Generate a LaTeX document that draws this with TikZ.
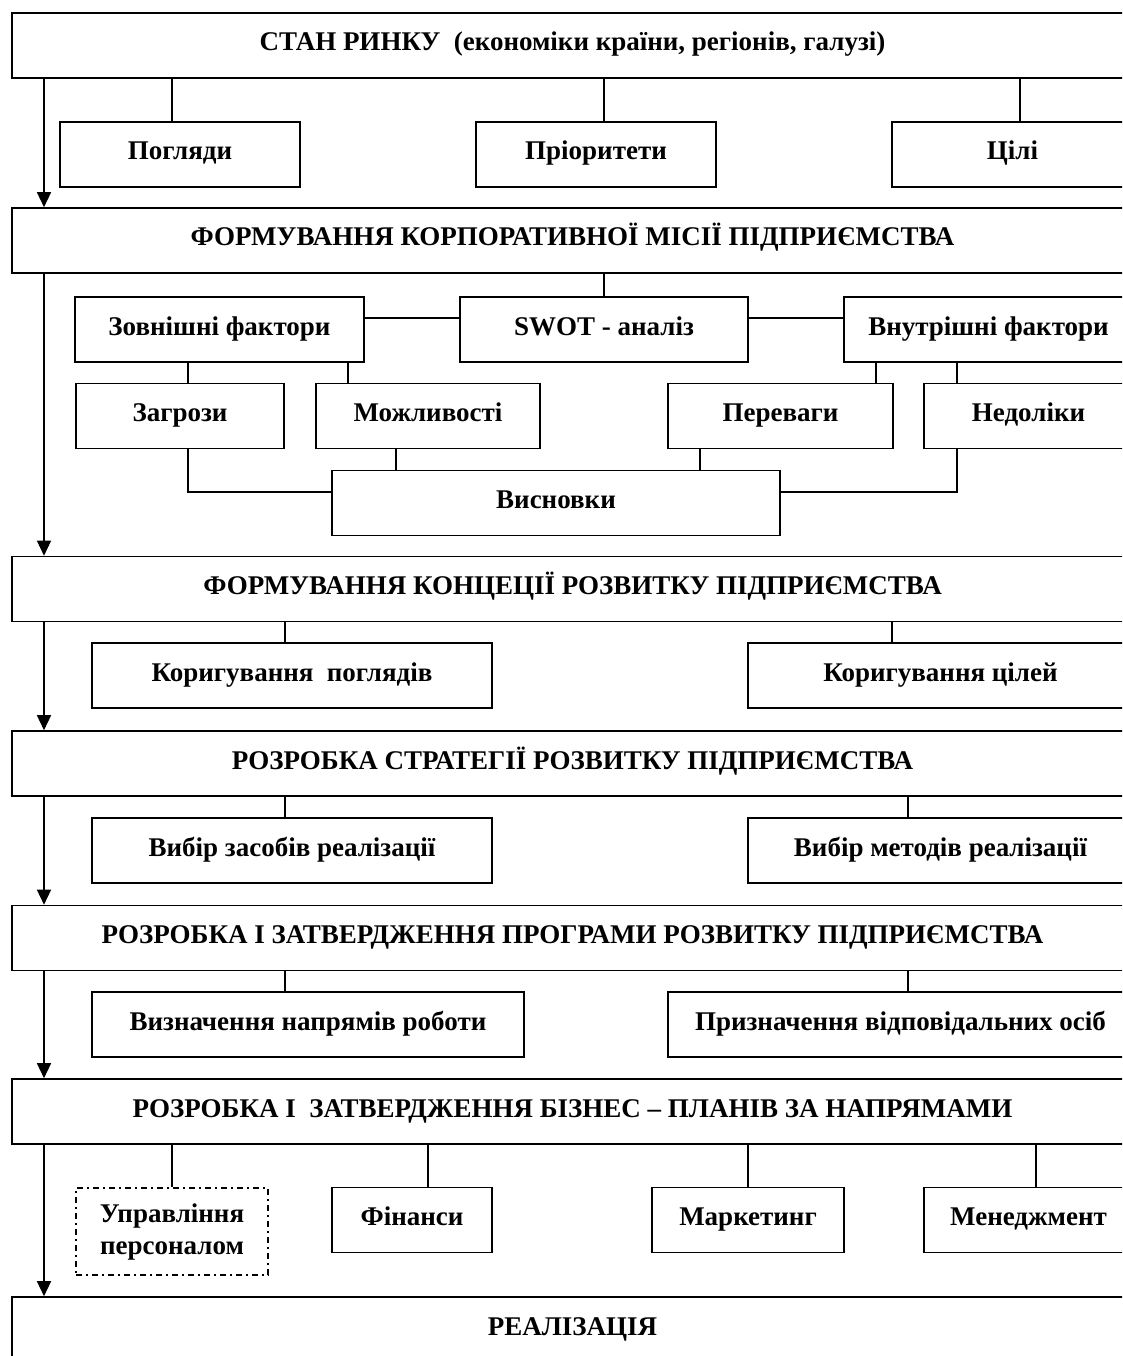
\documentclass[tikz,border=0pt]{standalone}
\usepackage{fontspec}
\setmainfont{Liberation Serif}
\usetikzlibrary{arrows.meta}

\begin{document}
\begin{tikzpicture}[x=1pt, y=-1pt,
    every node/.style={font=\fontsize{27}{32}\selectfont\bfseries, inner sep=0pt,
      text height=19pt, text depth=8pt},
    stage/.style={draw, line width=1.6pt, minimum width=1121pt, minimum height=65pt},
    item/.style={draw, line width=1.6pt, minimum height=65pt},
    dashitem/.style={draw, line width=1.4pt, minimum height=87pt, align=center,
      text height=, text depth=, dash pattern=on 6pt off 4pt on 2pt off 4pt},
    flow/.style={line width=1.4pt, -{Triangle[length=15pt, width=14pt]}},
    link/.style={line width=1.4pt}]
    \clip (0,0) rectangle (1122,1356);

    % main stages
    \foreach \n/\y/\t in {m1/45.5/{СТАН РИНКУ\ \ (економіки країни, регіонів, галузі)},
        m2/240.5/{ФОРМУВАННЯ КОРПОРАТИВНОЇ МІСІЇ ПІДПРИЄМСТВА},
        m3/589/{ФОРМУВАННЯ КОНЦЕЦІЇ РОЗВИТКУ ПІДПРИЄМСТВА},
        m4/763.5/{РОЗРОБКА СТРАТЕГІЇ РОЗВИТКУ ПІДПРИЄМСТВА},
        m5/938/{РОЗРОБКА І ЗАТВЕРДЖЕННЯ ПРОГРАМИ РОЗВИТКУ ПІДПРИЄМСТВА},
        m6/1111.5/{РОЗРОБКА І\ \ ЗАТВЕРДЖЕННЯ БІЗНЕС -- ПЛАНІВ ЗА НАПРЯМАМИ},
        m7/1329.5/{РЕАЛІЗАЦІЯ}} {
      \node[stage] (\n) at (572.5,\y) {\t};
    }

    % boxes under the stages
    \foreach \n/\x/\y/\w/\t in {pog/180/154.5/240/Погляди, pri/596/154.5/240/Пріоритети,
        cil/1012.5/154.5/241/Цілі,
        zovn/219.5/329.5/289/{Зовнішні фактори}, swot/604/329.5/288/{SWOT - аналіз},
        vnut/988.5/329.5/289/{Внутрішні фактори},
        zagr/180/416/208/Загрози, mozh/428/416/224/Можливості,
        perev/780.5/416/225/Переваги, nedol/1028.5/416/209/Недоліки,
        visn/556/503/448/Висновки,
        kpog/292/675.5/400/{Коригування\ \ поглядів}, kcil/940.5/675.5/385/{Коригування цілей},
        vzas/292/850.5/400/{Вибір засобів реалізації}, vmet/940.5/850.5/385/{Вибір методів реалізації},
        vnap/308/1024.5/432/{Визначення напрямів роботи},
        pryz/900.5/1024.5/465/{Призначення відповідальних осіб},
        fin/412/1220/160/Фінанси, mark/748/1220/192/Маркетинг,
        men/1028.5/1220/209/Менеджмент} {
      \node[item, minimum width=\w pt] (\n) at (\x,\y) {\t};
    }
    \node[dashitem, minimum width=192pt] (upr) at (172,1231.5) {Управління\\персоналом};

    % left arrows
    \coordinate (ax) at (44,0);
    \foreach \a/\b in {m1/m2, m2/m3, m3/m4, m4/m5, m5/m6, m6/m7} {
      \draw[flow] (\a.south -| ax) -- (\b.north -| ax);
    }

    % vertical links
    \foreach \a/\b/\x in {m1/pog/172, m1/pri/604, m1/cil/1020, m2/swot/604,
        zovn/zagr/188, zovn/mozh/348, vnut/perev/876, vnut/nedol/957,
        mozh/visn/396, perev/visn/700,
        m3/kpog/285, m3/kcil/892, m4/vzas/285, m4/vmet/908,
        m5/vnap/285, m5/pryz/908,
        m6/upr/172, m6/fin/428, m6/mark/748, m6/men/1036} {
      \coordinate (cx) at (\x,0);
      \draw[link] (\a.south -| cx) -- (\b.north -| cx);
    }

    % horizontal links
    \coordinate (sy) at (0,318);
    \coordinate (vy) at (0,492);
    \coordinate (zx) at (188,0);
    \coordinate (nx) at (957,0);
    \draw[link] (zovn.east |- sy) -- (swot.west |- sy);
    \draw[link] (swot.east |- sy) -- (vnut.west |- sy);
    \draw[link] (zagr.south -| zx) |- (visn.west |- vy);
    \draw[link] (nedol.south -| nx) |- (visn.east |- vy);
  \end{tikzpicture}
\end{document}
